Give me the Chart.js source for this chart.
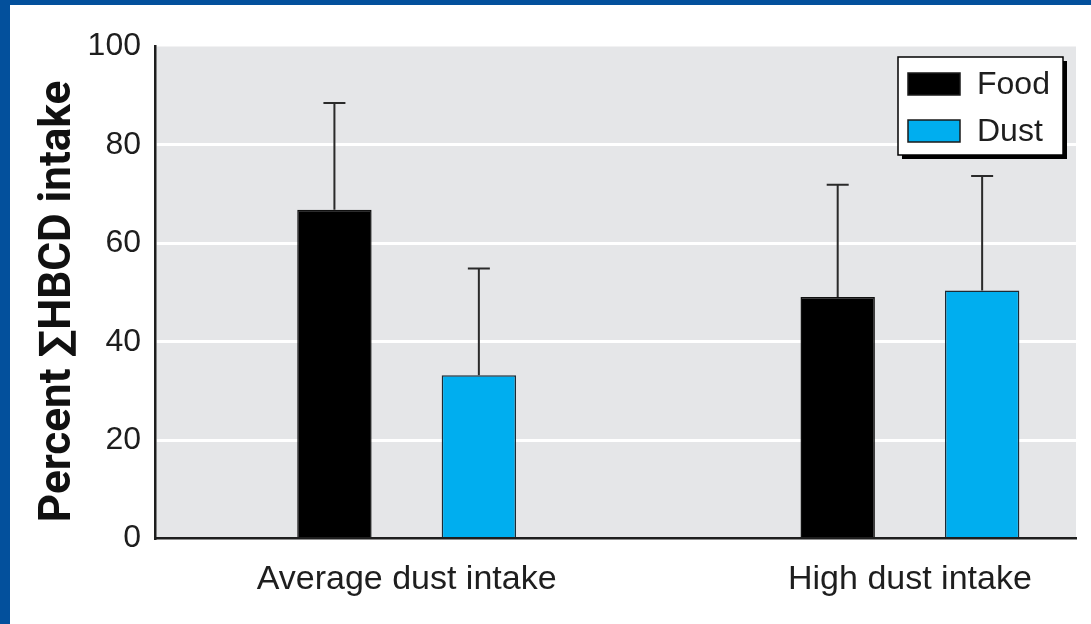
<!DOCTYPE html>
<html>
<head>
<meta charset="utf-8">
<script src="https://cdn.jsdelivr.net/npm/chart.js@4.4.1/dist/chart.umd.min.js"></script>
<style>
  html, body { margin: 0; padding: 0; background: #ffffff; overflow: hidden; }
  #wrap { position: relative; width: 1091px; height: 624px; }
</style>
</head>
<body>
<div id="wrap"><canvas id="chart" width="1091" height="624"></canvas></div>
<script>
// Share of total HBCD intake coming from food and from dust
const categories = ['Average dust intake', 'High dust intake'];
const seriesLabels = ['Food', 'Dust'];
const foodPercent = [66.8, 49.1];
const dustPercent = [33.2, 50.4];
const foodSD = [21.7, 22.8];
const dustSD = [21.7, 23.3];
const yTicks = [0, 20, 40, 60, 80, 100];
const yTitle = 'Percent \u2211HBCD intake';

const FOOD_COLOR = '#000000';
const DUST_COLOR = '#00aeef';
const FRAME_BLUE = '#03509c';
const PLOT_GREY = '#e5e6e8';
const INK = '#1e1e1e';

const toPoints = (vals) => vals.map((v, i) => ({ x: i, y: v }));

// Blue frame along the top and left edge of the figure
const framePlugin = {
  id: 'frame',
  beforeDraw(chart) {
    const { ctx, width, height } = chart;
    ctx.save();
    ctx.fillStyle = FRAME_BLUE;
    ctx.fillRect(0, 0, width, 5);
    ctx.fillRect(0, 0, 10, height);
    ctx.restore();
  }
};

// Grey plotting panel
const panelPlugin = {
  id: 'panel',
  beforeDraw(chart) {
    const { ctx, chartArea: a } = chart;
    ctx.save();
    ctx.fillStyle = PLOT_GREY;
    ctx.fillRect(a.left, a.top, a.right - a.left, a.bottom - a.top);
    ctx.restore();
  }
};

// Rotated y-axis title
const yTitlePlugin = {
  id: 'yTitle',
  afterDraw(chart) {
    const { ctx, chartArea: a } = chart;
    ctx.save();
    ctx.translate(57, (a.top + a.bottom) / 2 + 9);
    ctx.rotate(-Math.PI / 2);
    ctx.font = 'bold 44px Roboto, "Liberation Sans", sans-serif';
    ctx.fillStyle = '#111';
    ctx.textAlign = 'center';
    ctx.textBaseline = 'middle';
    ctx.fillText(yTitle, 0, 2);
    ctx.restore();
  }
};

// Upper error whiskers (+1 SD) above every bar
const errorBarPlugin = {
  id: 'errorBars',
  afterDatasetsDraw(chart) {
    const { ctx } = chart;
    const yScale = chart.scales.y;
    ctx.save();
    ctx.strokeStyle = '#2a2a2a';
    ctx.lineWidth = 2;
    chart.data.datasets.forEach((ds, di) => {
      const meta = chart.getDatasetMeta(di);
      meta.data.forEach((bar, i) => {
        const v = ds.data[i].y;
        const top = yScale.getPixelForValue(v + ds.sd[i]);
        ctx.beginPath();
        ctx.moveTo(bar.x, bar.y);
        ctx.lineTo(bar.x, top);
        ctx.moveTo(bar.x - 11, top);
        ctx.lineTo(bar.x + 11, top);
        ctx.stroke();
      });
    });
    ctx.restore();
  }
};

// Boxed legend with a drop shadow in the upper right of the panel
const legendBoxPlugin = {
  id: 'legendBox',
  afterDraw(chart) {
    const { ctx, chartArea: a } = chart;
    const w = 165, h = 98;
    const x = a.right - 13 - w;
    const y = a.top + 10.5;
    ctx.save();
    ctx.fillStyle = '#000';
    ctx.fillRect(x + 4, y + 4, w, h);
    ctx.fillStyle = '#fff';
    ctx.fillRect(x, y, w, h);
    ctx.strokeStyle = '#000';
    ctx.lineWidth = 1.5;
    ctx.strokeRect(x, y, w, h);
    ctx.font = '32px "Liberation Sans", Arial, sans-serif';
    ctx.textBaseline = 'middle';
    ctx.textAlign = 'left';
    chart.data.datasets.forEach((ds, i) => {
      const cy = y + 27 + i * 47;
      ctx.fillStyle = ds.backgroundColor;
      ctx.fillRect(x + 10, cy - 11, 52, 22);
      ctx.strokeStyle = '#1a1a1a';
      ctx.lineWidth = 1.5;
      ctx.strokeRect(x + 10, cy - 11, 52, 22);
      ctx.fillStyle = INK;
      ctx.fillText(ds.label, x + 79, cy + 1);
    });
    ctx.restore();
  }
};

new Chart(document.getElementById('chart'), {
  type: 'bar',
  data: {
    datasets: [
      {
        label: seriesLabels[0],
        data: toPoints(foodPercent),
        sd: foodSD,
        backgroundColor: FOOD_COLOR,
        borderColor: '#111',
        borderWidth: 1.5
      },
      {
        label: seriesLabels[1],
        data: toPoints(dustPercent),
        sd: dustSD,
        backgroundColor: DUST_COLOR,
        borderColor: '#1b2b36',
        borderWidth: 1.5
      }
    ]
  },
  options: {
    responsive: false,
    devicePixelRatio: 1,
    animation: false,
    categoryPercentage: 0.574,
    barPercentage: 0.515,
    layout: { padding: { top: 46.5, right: 15, left: 0, bottom: 0 } },
    plugins: {
      legend: { display: false },
      tooltip: { enabled: false }
    },
    scales: {
      x: {
        type: 'linear',
        offset: false,
        bounds: 'data',
        min: -0.5,
        max: 1.33,
        afterBuildTicks(scale) {
          scale.ticks = categories.map((_, i) => ({ value: i }));
        },
        afterFit(scale) { scale.height = 85.5; },
        grid: { display: false, drawTicks: false, offset: false },
        border: { display: true, color: INK, width: 2.5 },
        ticks: {
          autoSkip: false,
          maxRotation: 0,
          padding: 21,
          color: INK,
          font: { family: '"Liberation Sans", Arial, sans-serif', size: 34 },
          callback: (v) => categories[v]
        }
      },
      y: {
        min: 0,
        max: 100,
        afterBuildTicks(scale) {
          scale.ticks = yTicks.map((v) => ({ value: v }));
        },
        afterFit(scale) { scale.width = 155; },
        grid: {
          drawTicks: false,
          lineWidth: 3,
          color: (c) => (c.tick && (c.tick.value === 0 || c.tick.value === 100)) ? 'rgba(0,0,0,0)' : '#ffffff'
        },
        border: { display: true, color: INK, width: 2.5 },
        ticks: {
          padding: 14,
          color: INK,
          font: { family: '"Liberation Sans", sans-serif', size: 32 }
        }
      }
    }
  },
  plugins: [framePlugin, panelPlugin, errorBarPlugin, legendBoxPlugin, yTitlePlugin]
});
</script>
</body>
</html>
